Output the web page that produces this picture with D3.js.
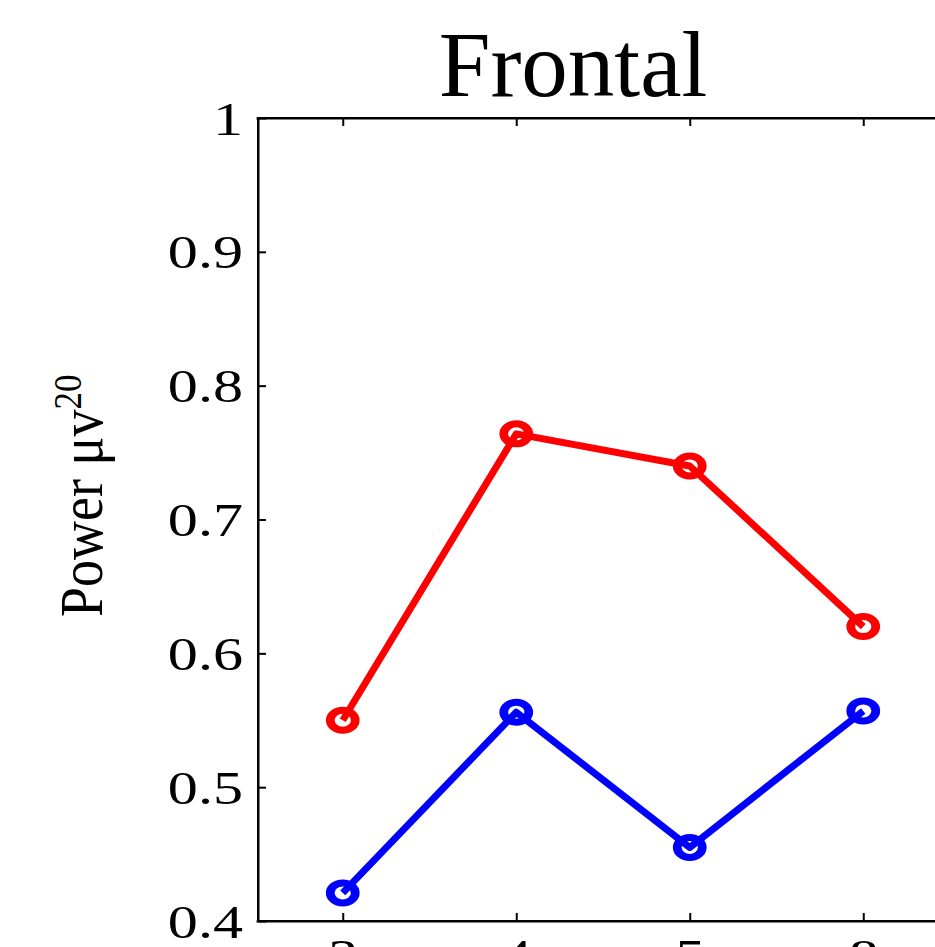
<!DOCTYPE html>
<html>
<head>
<meta charset="utf-8">
<script src="https://cdn.jsdelivr.net/npm/d3@7"></script>
<style>
  body { margin: 0; background: #fff; }
  svg { display: block; overflow: hidden; }
  text { font-family: "Liberation Serif", "DejaVu Serif", serif; fill: #000; }
</style>
</head>
<body>
<svg id="chart" width="935" height="947"></svg>
<script>
// data
const categories = ['3', '4', '5', '8'];
const redValues  = [0.550, 0.764, 0.740, 0.620];
const blueValues = [0.421, 0.556, 0.455, 0.557];
const yTicks = [0.4, 0.5, 0.6, 0.7, 0.8, 0.9, 1];

const svg = d3.select('#chart');
const plotLeft = 258, plotRight = 951, plotTop = 118, plotBottom = 921;

const x = d3.scalePoint().domain(categories).range([plotLeft - 2, plotRight - 1]).padding(0.5);
const y = d3.scaleLinear().domain([0.4, 1]).range([plotBottom, plotTop]);

const fmt = d => String(+d.toFixed(1));

// tick labels are stretched sideways, like the exported figure
const yAxis = svg.append('g')
    .attr('transform', `translate(${plotLeft},0)`)
    .call(d3.axisLeft(y).tickValues(yTicks).tickFormat(fmt).tickSizeInner(-8).tickSizeOuter(0));
yAxis.selectAll('text')
    .attr('x', null).attr('dy', null)
    .attr('transform', 'translate(-15,16) scale(1.28,1)')
    .style('font-size', '47px')
    .style('font-family', '"Liberation Serif", serif')
    .attr('text-anchor', 'end');

const xAxis = svg.append('g')
    .attr('transform', `translate(0,${plotBottom})`)
    .call(d3.axisBottom(x).tickSizeInner(-8).tickSizeOuter(0));
xAxis.selectAll('text')
    .attr('y', null).attr('dy', null)
    .attr('transform', 'translate(0,51) scale(1.28,1)')
    .style('font-size', '47px')
    .style('font-family', '"Liberation Serif", serif')
    .attr('text-anchor', 'middle');

const topAxis = svg.append('g')
    .attr('transform', `translate(0,${plotTop})`)
    .call(d3.axisTop(x).tickSizeInner(-8).tickSizeOuter(0).tickFormat(''));

[yAxis, xAxis, topAxis].forEach(g => {
  g.select('.domain').attr('stroke', '#000').attr('stroke-width', 2);
  g.selectAll('.tick line').attr('stroke', '#000').attr('stroke-width', 2);
});

// frame
svg.append('rect')
    .attr('x', plotLeft).attr('y', plotTop)
    .attr('width', plotRight - plotLeft).attr('height', plotBottom - plotTop)
    .attr('fill', 'none').attr('stroke', '#000').attr('stroke-width', 2);

// series
const series = [
  { values: redValues, color: '#ff0000' },
  { values: blueValues, color: '#0000ff' }
];
const line = d3.line().x((d, i) => x(categories[i])).y(d => y(d));

series.forEach(s => {
  svg.append('path')
      .datum(s.values)
      .attr('d', line)
      .attr('fill', 'none')
      .attr('stroke', s.color)
      .attr('stroke-width', 7)
      .attr('stroke-linejoin', 'round');
  svg.selectAll(null)
      .data(s.values)
      .join('circle')
      .attr('transform', (d, i) => `translate(${x(categories[i])},${y(d)}) scale(1.25,1)`)
      .attr('r', 10)
      .attr('fill', 'none')
      .attr('stroke', s.color)
      .attr('stroke-width', 7);
});

// title
svg.append('text')
    .attr('x', 573).attr('y', 96)
    .attr('text-anchor', 'middle')
    .style('font-size', '93px')
    .text('Frontal');

// y label
const yl = svg.append('text')
    .attr('transform', 'translate(102,617) rotate(-90) scale(1,1.15)')
    .style('font-size', '54px');
yl.append('tspan').text('Power \u03bcv');
yl.append('tspan').attr('dy', -18).style('font-size', '35px').text('20');
</script>
</body>
</html>
